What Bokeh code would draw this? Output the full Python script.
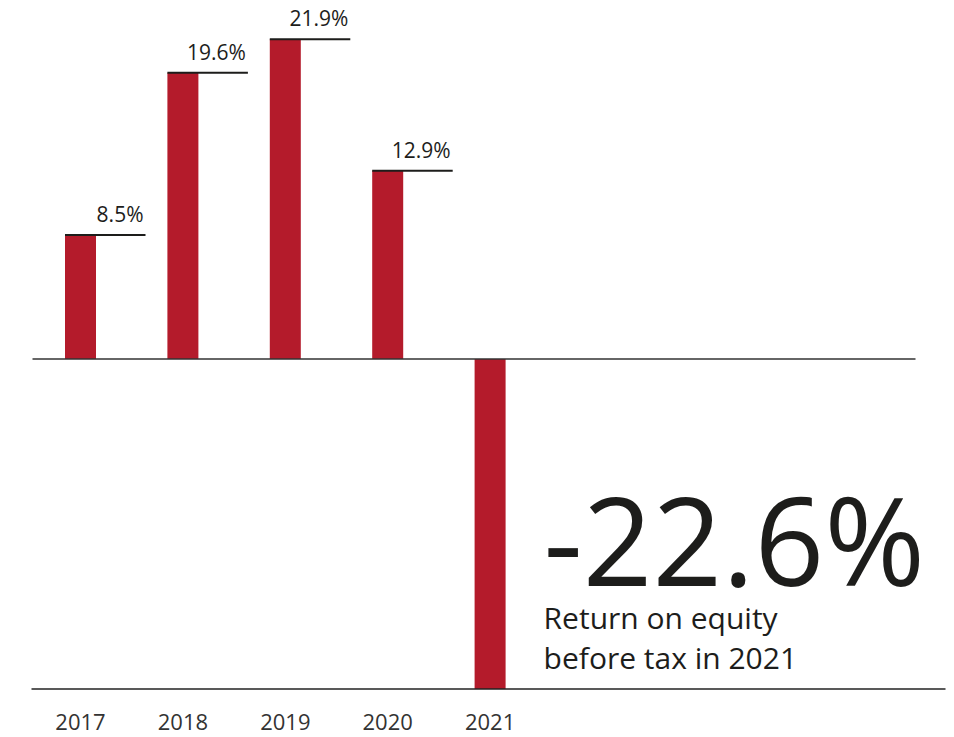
from bokeh.plotting import figure
from bokeh.models import Range1d
from bokeh.embed import file_html
from bokeh.resources import INLINE
from bokeh.core.properties import value

years = ["2017", "2018", "2019", "2020", "2021"]
roe = [8.5, 19.6, 21.9, 12.9, -22.6]
value_labels = ["8.5%", "19.6%", "21.9%", "12.9%"]
headline = "-22.6%"
subtitle = ["Return on equity", "before tax in 2021"]

RED = "#B41B2B"
INK = "#1d1d1b"
FONT = "Open Sans"

W, H = 954, 737
PX_X = 102.4   # pixels per category step
X0 = 80.0      # pixel position of first category centre
PX_Y = 14.6    # pixels per percentage point
Y0 = 358.5     # pixel position of zero from top
BASE = 0.34    # baseline correction (fraction of font size)

def dx(px):
    return px / PX_X

def dy(px):
    return px / PX_Y

p = figure(width=W, height=H,
           x_range=Range1d(-X0 / PX_X, (W - X0) / PX_X),
           y_range=Range1d(-(H - Y0) / PX_Y, Y0 / PX_Y),
           x_axis_type=None, y_axis_type=None,
           output_backend="svg", toolbar_location=None, min_border=0)
p.grid.visible = False
p.outline_line_color = None
p.background_fill_color = "white"
p.border_fill_color = "white"

idx = list(range(len(years)))
bw = dx(31)
p.vbar(x=idx, top=roe, bottom=0, width=bw, color=RED, line_color=None)

# zero and baseline lines
p.segment(x0=[dx(32 - X0)], x1=[dx(915 - X0)], y0=[0], y1=[0],
          line_color="#333333", line_width=1.6)
ymin = min(roe)
p.segment(x0=[dx(31 - X0)], x1=[dx(945 - X0)], y0=[ymin], y1=[ymin],
          line_color="#222222", line_width=1.6)

# leader lines and value labels for positive bars
pos_idx = [i for i, v in zip(idx, roe) if v > 0]
pos_val = [v for v in roe if v > 0]
p.segment(x0=[i - bw / 2 for i in pos_idx], x1=[i + dx(65) for i in pos_idx],
          y0=pos_val, y1=pos_val, line_color=INK, line_width=2)
fs = 21
p.text(x=[i + dx(63) for i in pos_idx], y=pos_val, text=value_labels,
       text_align="right", text_baseline="alphabetic", y_offset=-14 - BASE * fs,
       text_font=value(FONT), text_font_size=f"{fs}px", text_color=INK)

# year labels
yfs = 22
p.text(x=idx, y=[ymin] * len(idx), text=years, text_align="center",
       text_baseline="alphabetic", y_offset=41 - BASE * yfs,
       text_font=value(FONT), text_font_size=f"{yfs}px", text_color="#333333")

# headline
hx = idx[-1] + dx(53.5)
hfs = 122
p.text(x=[hx], y=[-dy(580 - Y0)], text=[headline], text_align="left",
       text_baseline="alphabetic", y_offset=-BASE * hfs, text_font=value(FONT),
       text_font_size=f"{hfs}px", text_color=INK)
sfs = 30
p.text(x=[hx, hx], y=[-dy(627 - Y0), -dy(667 - Y0)], text=subtitle,
       text_align="left", text_baseline="alphabetic", y_offset=-BASE * sfs,
       text_font=value(FONT), text_font_size=f"{sfs}px", text_color=INK)

open("out.html", "w").write(file_html(p, INLINE))
